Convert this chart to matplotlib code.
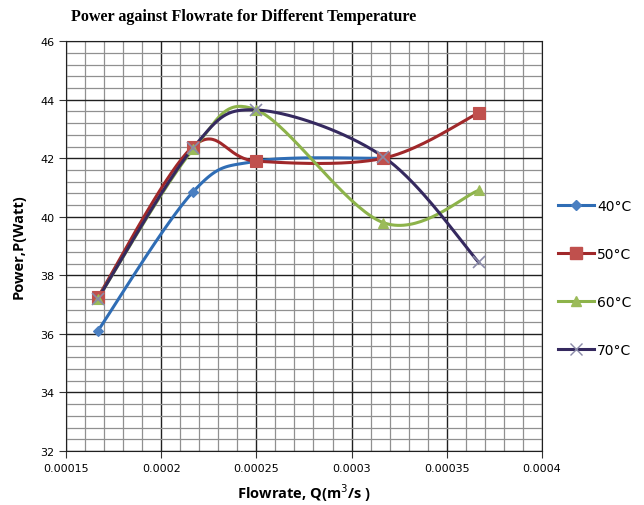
import numpy as np
import matplotlib
matplotlib.use("Agg")
import matplotlib.pyplot as plt
from matplotlib.ticker import MultipleLocator

flow_40 = [0.0001667, 0.0002167, 0.00025, 0.0003167]
power_40 = [36.1, 40.85, 41.9, 42.0]

flow = [0.0001667, 0.0002167, 0.00025, 0.0003167, 0.0003667]
power_50 = [37.25, 42.4, 41.9, 42.0, 43.55]
power_60 = [37.2, 42.3, 43.65, 39.8, 40.9]
power_70 = [37.2, 42.35, 43.65, 42.05, 38.45]

labels = ["40°C", "50°C", "60°C", "70°C"]


def smooth(xs, ys, n=40):
    # excel-like smoothed line (catmull-rom bezier)
    xs = np.asarray(xs, float)
    ys = np.asarray(ys, float)
    px, py = [], []
    k = len(xs)
    for i in range(k - 1):
        x0, y0 = (xs[i - 1], ys[i - 1]) if i > 0 else (xs[i], ys[i])
        x3, y3 = (xs[i + 2], ys[i + 2]) if i + 2 < k else (xs[i + 1], ys[i + 1])
        x1, y1 = xs[i], ys[i]
        x2, y2 = xs[i + 1], ys[i + 1]
        c1x, c1y = x1 + (x2 - x0) / 6, y1 + (y2 - y0) / 6
        c2x, c2y = x2 - (x3 - x1) / 6, y2 - (y3 - y1) / 6
        t = np.linspace(0, 1, n)
        bx = (1-t)**3*x1 + 3*(1-t)**2*t*c1x + 3*(1-t)*t**2*c2x + t**3*x2
        by = (1-t)**3*y1 + 3*(1-t)**2*t*c1y + 3*(1-t)*t**2*c2y + t**3*y2
        px.extend(bx)
        py.extend(by)
    return px, py


fig = plt.figure(figsize=(6.44, 5.06), dpi=100)
ax = fig.add_axes([0.1025, 0.1067, 0.739, 0.810])

series = [
    (flow_40, power_40, "#2f6db5", "#4a7fc1", "D", 5),
    (flow, power_50, "#a0282a", "#c0504d", "s", 8),
    (flow, power_60, "#8db34a", "#9bbb59", "^", 7),
    (flow, power_70, "#35295f", "#8a8aa8", "x", 9),
]

handles = []
for (xs, ys, lc, mc, mk, ms), lab in zip(series, labels):
    sx, sy = smooth(xs, ys)
    ax.plot(sx, sy, color=lc, lw=2.2, zorder=3)
    ax.plot(xs, ys, ls="none", marker=mk, ms=ms, color=mc,
            mew=1.2 if mk == "x" else 0.8, zorder=4)
    h, = ax.plot([], [], color=lc, lw=2.2, marker=mk, ms=ms, mfc=mc, mec=mc)
    handles.append(h)

ax.set_xlim(0.00015, 0.0004)
ax.set_ylim(32, 46)
ax.xaxis.set_major_locator(MultipleLocator(0.00005))
ax.xaxis.set_minor_locator(MultipleLocator(0.00001))
ax.yaxis.set_major_locator(MultipleLocator(2))
ax.yaxis.set_minor_locator(MultipleLocator(0.4))
ax.set_xticks([0.00015, 0.0002, 0.00025, 0.0003, 0.00035, 0.0004])
ax.set_xticklabels(["0.00015", "0.0002", "0.00025", "0.0003", "0.00035", "0.0004"])

ax.grid(which="major", color="#202020", lw=1.0)
ax.grid(which="minor", color="#909090", lw=0.9)
ax.set_axisbelow(True)
ax.tick_params(which="major", direction="out", length=5, labelsize=8, color="#333333")
ax.tick_params(which="minor", length=0)
for s in ax.spines.values():
    s.set_color("#202020")

fig.text(0.378, 0.967, "Power against Flowrate for Different Temperature",
         fontfamily="Liberation Serif", fontweight="bold", fontsize=11.6,
         ha="center", va="center")
ax.set_xlabel("Flowrate, Q(m$^3$/s )", fontweight="bold", fontsize=10.5,
              fontfamily="Open Sans", labelpad=6)
ax.set_ylabel("Power,P(Watt)", fontweight="bold", fontsize=10.5,
              fontfamily="Open Sans", labelpad=10)

fig.legend(handles, labels, loc="upper left", bbox_to_anchor=(0.847, 0.63),
           frameon=False, fontsize=10, labelspacing=2.45, handlelength=2.6,
           handletextpad=0.2)

fig.savefig("out.png", dpi=100)
